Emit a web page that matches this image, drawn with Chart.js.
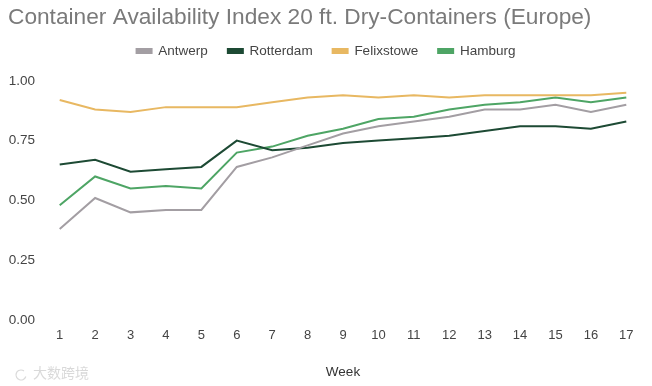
<!DOCTYPE html>
<html>
<head>
<meta charset="utf-8">
<script src="https://cdn.jsdelivr.net/npm/chart.js@4/dist/chart.umd.min.js"></script>
<style>
html,body{margin:0;padding:0;background:#fff;}
#wrap{width:652px;height:386px;position:relative;}
</style>
</head>
<body>
<div id="wrap"><canvas id="c" width="652" height="386"></canvas></div>
<script>
const weeks = ["1","2","3","4","5","6","7","8","9","10","11","12","13","14","15","16","17"];
const antwerp    = [0.38,0.51,0.45,0.46,0.46,0.64,0.68,0.73,0.78,0.81,0.83,0.85,0.88,0.88,0.90,0.87,0.90];
const rotterdam  = [0.65,0.67,0.62,0.63,0.64,0.75,0.71,0.72,0.74,0.75,0.76,0.77,0.79,0.81,0.81,0.80,0.83];
const felixstowe = [0.92,0.88,0.87,0.89,0.89,0.89,0.91,0.93,0.94,0.93,0.94,0.93,0.94,0.94,0.94,0.94,0.95];
const hamburg    = [0.48,0.60,0.55,0.56,0.55,0.70,0.725,0.77,0.80,0.84,0.85,0.88,0.90,0.91,0.93,0.91,0.93];
const yTicks = [0, 0.25, 0.5, 0.75, 1.0];

const FONT = "'Liberation Sans', Arial, sans-serif";

const watermark = {
  id: 'watermark',
  afterDraw(chart) {
    const ctx = chart.ctx;
    ctx.save();
    ctx.fillStyle = 'rgba(185,185,185,0.55)';
    ctx.font = "14px 'Noto Sans CJK SC'";
    ctx.textBaseline = 'middle';
    ctx.fillText('大数跨境', 33, 373);
    ctx.strokeStyle = 'rgba(185,185,185,0.55)';
    ctx.lineWidth = 1.2;
    ctx.beginPath();
    ctx.arc(21, 375, 5, 0.3, Math.PI * 1.7);
    ctx.stroke();
    ctx.restore();
  }
};

function ds(label, data, color) {
  return { label, data, xAxisID: 'x', yAxisID: 'y', borderColor: color, backgroundColor: color,
           borderWidth: 2, pointRadius: 0, pointHoverRadius: 0, tension: 0, fill: false };
}

new Chart(document.getElementById('c'), {
  type: 'line',
  data: {
    labels: weeks,
    datasets: [
      ds('Antwerp', antwerp, '#a39ea3'),
      ds('Rotterdam', rotterdam, '#1d4a34'),
      ds('Felixstowe', felixstowe, '#e8b862'),
      ds('Hamburg', hamburg, '#4ea565')
    ]
  },
  options: {
    responsive: false,
    animation: false,
    events: [],
    layout: { padding: { top: 10.7, left: 8, right: 8, bottom: 0 } },
    plugins: {
      title: {
        display: true,
        text: 'Container Availability Index 20 ft. Dry-Containers (Europe)',
        align: 'start',
        color: '#7a7a7a',
        font: { family: FONT, size: 22.7, weight: 'normal', lineHeight: 0.6 },
        padding: { top: 0, bottom: 0 }
      },
      legend: {
        display: true,
        position: 'top',
        align: 'center',
        labels: {
          color: '#444444',
          font: { family: FONT, size: 13.5 },
          boxWidth: 15,
          boxHeight: 4,
          padding: 20
        }
      },
      tooltip: { enabled: false }
    },
    scales: {
      topPad: {
        type: 'linear', axis: 'x', position: 'top', display: true,
        grid: { display: false, drawTicks: false }, border: { display: false },
        ticks: { display: false },
        afterFit(s) { s.height = 13; }
      },
      x: {
        type: 'category',
        offset: true,
        grid: { display: false, drawTicks: false },
        border: { display: false },
        ticks: { color: '#444444', font: { family: FONT, size: 13 }, padding: 8, maxRotation: 0, autoSkip: false },
        title: { display: true, text: 'Week', color: '#333333', font: { family: FONT, size: 13.5 }, padding: { top: 0, bottom: 6 } },
        afterFit(s) { s.height = 66; }
      },
      y: {
        min: 0, max: 1,
        grid: { display: false, drawTicks: false },
        border: { display: false },
        afterBuildTicks(s) { s.ticks = yTicks.map(v => ({ value: v })); },
        ticks: { color: '#444444', font: { family: FONT, size: 13.5 }, padding: 7,
                 callback: v => Number(v).toFixed(2) },
        afterFit(s) { s.width = 34; }
      }
    }
  },
  plugins: [watermark]
});
</script>
</body>
</html>
